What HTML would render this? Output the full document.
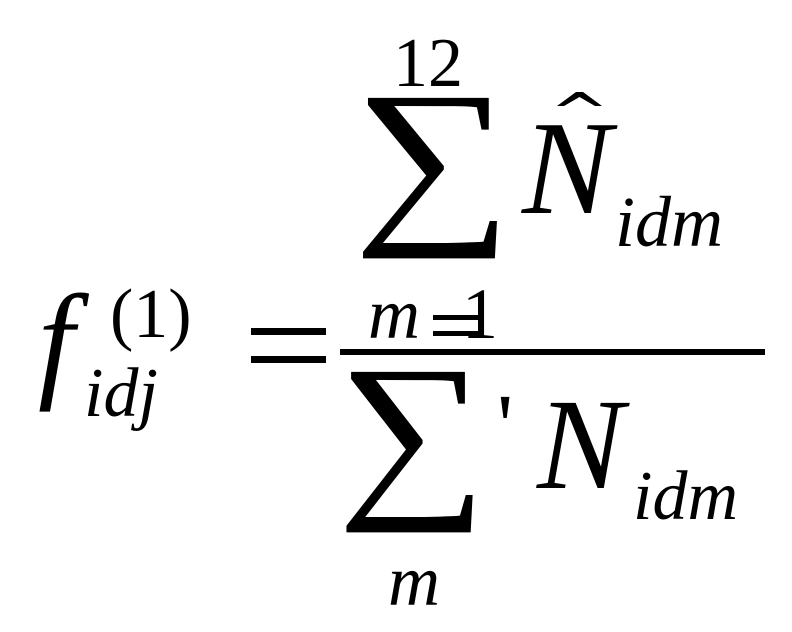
<!DOCTYPE html>
<html><head><meta charset="utf-8"><style>
html,body{margin:0;padding:0;background:#fff;}
svg{display:block;}
text{font-family:"Liberation Serif",serif;fill:#000;}
.i{font-style:italic;}
</style></head><body>
<svg width="792" height="632" viewBox="0 0 792 632" xmlns="http://www.w3.org/2000/svg">
<text x="393" y="86" font-size="70">12</text>
<g transform="translate(353,219) scale(1.21,1)"><text x="0" y="0" font-size="185">∑</text></g>
<text x="522" y="213" font-size="134" class="i">N</text>
<path d="M557,106 L576,92 L583,92 L602,106 L595,106 L579.5,97 L564,106 Z"/>
<text x="615" y="246" font-size="72" class="i">idm</text>
<text x="38" y="384" font-size="130" class="i">f</text>
<text x="110" y="337" font-size="70">(1)</text>
<text x="84" y="416" font-size="70" class="i">idj</text>
<rect x="251" y="328" width="75" height="7"/>
<rect x="251" y="356" width="75" height="7"/>
<text x="368" y="338" font-size="72" class="i">m</text>
<rect x="433" y="315" width="45" height="5"/>
<rect x="433" y="331" width="45" height="5"/>
<text x="462" y="338" font-size="72">1</text>
<rect x="340" y="349" width="425" height="6"/>
<g transform="translate(337,493) scale(1.14,1)"><text x="0" y="0" font-size="185">∑</text></g>
<text x="497" y="456" font-size="90">'</text>
<text x="537" y="488" font-size="130" class="i">N</text>
<text x="633" y="519" font-size="70" class="i">idm</text>
<text x="388" y="605" font-size="72" class="i">m</text>
</svg>
</body></html>
